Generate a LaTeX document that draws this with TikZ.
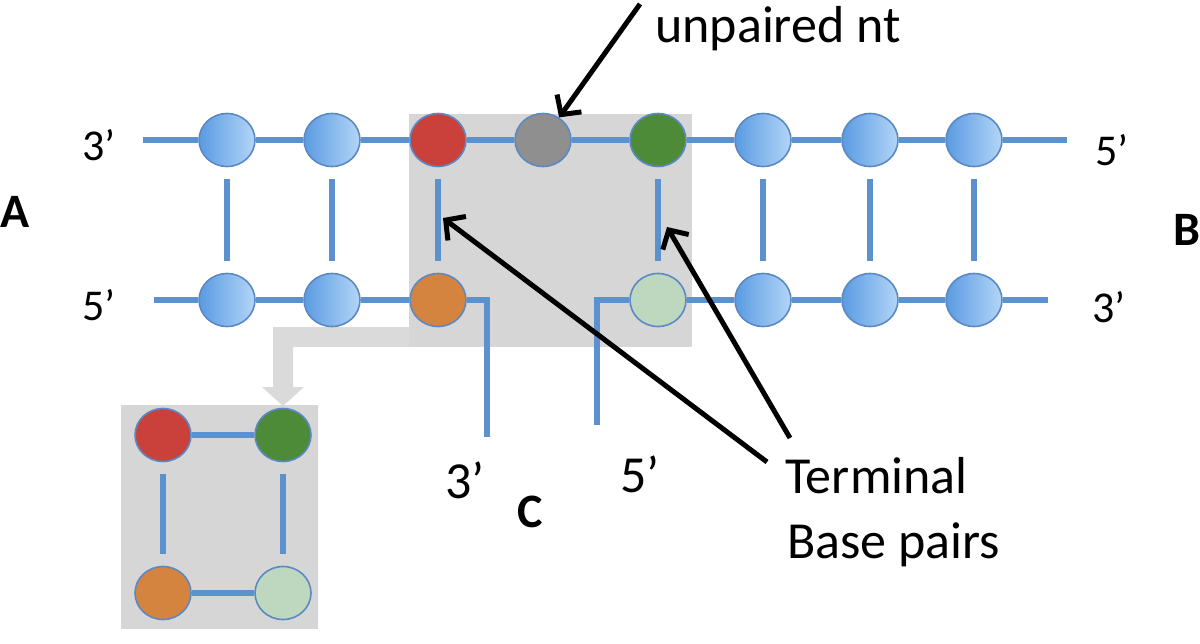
\documentclass[tikz,border=0pt]{standalone}
\usepackage{fontspec}
\setmainfont{Carlito}
\usetikzlibrary{shapes.geometric, arrows.meta}

\definecolor{strand}{HTML}{5B92CE}
\definecolor{ntedge}{HTML}{5A89C4}
\definecolor{ntdark}{HTML}{5A9BE2}
\definecolor{ntlight}{HTML}{B3D5F7}
\definecolor{ntred}{HTML}{C9413A}
\definecolor{ntgreen}{HTML}{4E8B38}
\definecolor{ntgray}{HTML}{8F8F8F}
\definecolor{ntorange}{HTML}{D4843E}
\definecolor{ntpale}{HTML}{BDD8BE}
\definecolor{boxgray}{HTML}{D6D6D6}
\definecolor{arrowgray}{HTML}{DADADA}

\begin{document}
\begin{tikzpicture}[x=1pt,y=-1pt,
  nt/.style={ellipse,minimum width=56pt,minimum height=53pt,inner sep=0pt,draw=ntedge,line width=1.6pt},
  blue nt/.style={nt,left color=ntdark,right color=ntlight},
  bb/.style={draw=strand,line width=6pt},
  rung/.style={bb,shorten <=12pt,shorten >=12pt},
  ptr/.style={-{Straight Barb[length=14pt,width=30pt]},line width=5pt},
  lab/.style={inner sep=0pt,anchor=base west,font=\fontsize{44}{50}\selectfont},
  big/.style={inner sep=0pt,anchor=base west,font=\fontsize{52}{60}\selectfont},
  side/.style={inner sep=0pt,anchor=base west,font=\fontsize{48}{56}\selectfont\bfseries}]
\useasboundingbox (0,0) rectangle (1200,643);

% shaded boxes and the bent arrow
\fill[boxgray] (409,114) rectangle (692,347);
\fill[boxgray] (121,405) rectangle (318,629);
\fill[arrowgray] (409,327) -- (273,327) -- (273,387) -- (262,387) -- (283,406)
  -- (304,387) -- (293,387) -- (293,347) -- (409,347) -- cycle;

% nucleotides
\foreach \i/\x in {1/227,2/332,6/763,7/870,8/974} {
  \node[blue nt] (t\i) at (\x,140) {};
  \node[blue nt] (b\i) at (\x,300) {};
}
\node[nt,fill=ntred] (t3) at (438,140) {};
\node[nt,fill=ntgray] (t4) at (543,140) {};
\node[nt,fill=ntgreen] (t5) at (658,140) {};
\node[nt,fill=ntorange] (b3) at (438,300) {};
\node[nt,fill=ntpale] (b5) at (658,300) {};

\node[nt,fill=ntred] (i1) at (163,435) {};
\node[nt,fill=ntgreen] (i2) at (283,435) {};
\node[nt,fill=ntorange] (i3) at (163,593) {};
\node[nt,fill=ntpale] (i4) at (283,593) {};

% strand ends
\coordinate (tl) at (143,140);
\coordinate (tr) at (1067,140);
\coordinate (bl) at (154,300);
\coordinate (br) at (1048,300);
\coordinate (c3) at (487,437);
\coordinate (c5) at (597,425);

% backbones and pairs
\draw[bb] (tl) -- (t1) -- (t2) -- (t3) -- (t4) -- (t5) -- (t6) -- (t7) -- (t8) -- (tr);
\draw[bb] (bl) -- (b1) -- (b2) -- (b3);
\draw[bb] (b3) -| (c3);
\draw[bb] (c5) |- (b5);
\draw[bb] (b5) -- (b6) -- (b7) -- (b8) -- (br);
\foreach \i in {1,2,3,5,6,7,8}
  \draw[rung] (t\i) -- (b\i);

\draw[bb] (i1) -- (i2);
\draw[bb] (i3) -- (i4);
\draw[rung] (i1) -- (i3);
\draw[rung] (i2) -- (i4);

% labels
\node[lab] (l3) at (82,160) {3’};
\node[lab] (l5) at (82,320) {5’};
\node[lab] (r5) at (1095,165) {5’};
\node[lab] (r3) at (1092,322) {3’};
\node[big] (m3) at (445,498) {3’};
\node[big] (m5) at (620,492) {5’};
\node[side] (sa) at (0,227) {A};
\node[side] (sb) at (1173,245) {B};
\node[side] (sc) at (517,527) {C};
\node[big] (unp) at (655,42) {unpaired nt};
\node[big] (term) at (785,493) {Terminal};
\node[big] (bpair) at (787,558) {Base pairs};

% pointers
\coordinate (ua) at (640,4);
\coordinate (pa) at (767,462);
\coordinate (pa') at (443,218);
\coordinate (pb) at (790,438);
\coordinate (pb') at (667,227);
\draw[ptr] (ua) -- (t4);
\draw[ptr] (pa) -- (pa');
\draw[ptr] (pb) -- (pb');
\end{tikzpicture}
\end{document}
